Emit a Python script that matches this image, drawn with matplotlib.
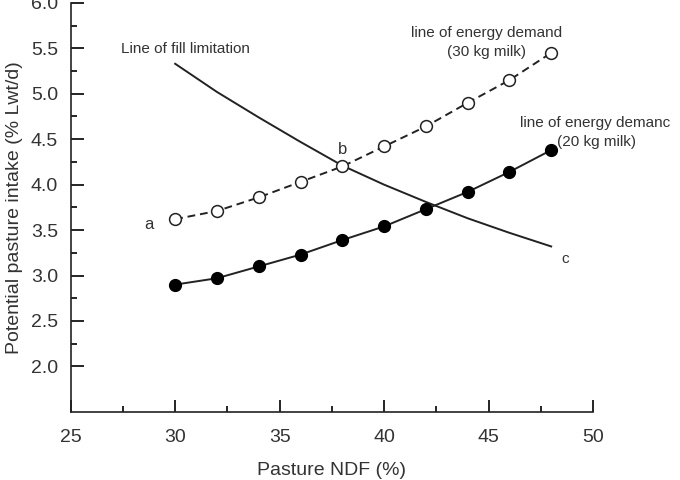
import matplotlib
matplotlib.use('Agg')
import matplotlib.pyplot as plt
from matplotlib.ticker import MultipleLocator, FixedLocator

# pasture NDF (%)
ndf = [30, 32, 34, 36, 38, 40, 42, 44, 46, 48]
# energy demand, 30 kg milk (open circles)
demand_30 = [3.62, 3.71, 3.86, 4.03, 4.20, 4.42, 4.64, 4.90, 5.15, 5.45]
# energy demand, 20 kg milk (filled circles)
demand_20 = [2.90, 2.97, 3.10, 3.23, 3.39, 3.54, 3.73, 3.92, 4.14, 4.38]
# fill limitation curve
fill_limit = [5.33, 5.02, 4.74, 4.47, 4.21, 4.00, 3.81, 3.63, 3.47, 3.32]

y_ticks = [2.0, 2.5, 3.0, 3.5, 4.0, 4.5, 5.0, 5.5, 6.0]
y_labels = ['2.0', '2.5', '3.0', '3.5', '4.0', '4.5', '5.0', '5.5', '6.0']
y_minor = [2.25, 2.75, 3.25, 3.75, 4.25, 4.75, 5.25, 5.75]

plt.rcParams['font.family'] = ['Liberation Sans', 'DejaVu Sans']
TXT = '#333333'

fig = plt.figure(figsize=(6.8, 4.8), dpi=100)
ax = fig.add_axes([0.104, 0.142, 0.768, 0.852])

ax.plot(ndf, fill_limit, color='#222222', lw=1.4, zorder=2)
ax.plot(ndf, demand_30, color='#222222', lw=1.4, ls=(0, (4, 2.5)),
        marker='o', ms=8.5, mfc='white', mec='#222222', mew=1.1, zorder=3)
ax.plot(ndf, demand_20, color='#222222', lw=1.4,
        marker='o', ms=8.5, mfc='black', mec='black', zorder=3)

# annotations
fs = 11
ax.text(27.39, 5.49, 'Line of fill limitation', fontsize=fs, color=TXT,
        va='center')
ax.text(44.92, 5.67, 'line of energy demand', fontsize=fs, color=TXT,
        ha='center', va='center')
ax.text(44.92, 5.46, '(30 kg milk)', fontsize=fs, color=TXT,
        ha='center', va='center')
ax.text(46.5, 4.68, 'line of energy demanc', fontsize=fs, color=TXT,
        va='center', clip_on=False)
ax.text(48.28, 4.47, '(20 kg milk)', fontsize=fs, color=TXT, va='center')
ax.text(28.74, 3.56, 'a', fontsize=12, color=TXT, ha='center', va='center')
ax.text(38.03, 4.39, 'b', fontsize=12, color=TXT, ha='center', va='center')
ax.text(48.66, 3.18, 'c', fontsize=11, color=TXT, ha='center', va='center')

ax.set_xlim(25, 50)
ax.set_ylim(1.5, 6.0)
ax.xaxis.set_major_locator(MultipleLocator(5))
ax.xaxis.set_minor_locator(MultipleLocator(2.5))
ax.set_yticks(y_ticks)
ax.set_yticklabels(y_labels)
ax.yaxis.set_minor_locator(FixedLocator(y_minor))

ax.tick_params(which='major', direction='in', length=9, width=1.2,
               labelsize=14, labelcolor=TXT)
ax.tick_params(axis='x', which='major', pad=12)
ax.tick_params(axis='y', which='major', pad=9)
ax.tick_params(which='minor', direction='in', length=4, width=1.2)

for side in ['top', 'right']:
    ax.spines[side].set_visible(False)
for side in ['left', 'bottom']:
    ax.spines[side].set_linewidth(1.2)
    ax.spines[side].set_color('#222222')

ax.set_xlabel('Pasture NDF (%)', fontsize=14, color=TXT, labelpad=12)
ax.set_ylabel('Potential pasture intake (% Lwt/d)', fontsize=14,
              color=TXT, labelpad=6)

fig.savefig('out.png', dpi=100)
